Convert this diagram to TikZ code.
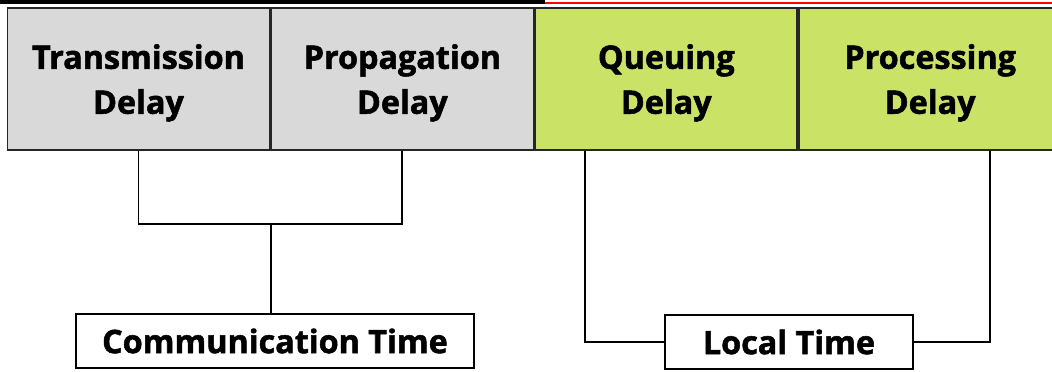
\documentclass[tikz,border=0pt]{standalone}
\usepackage{fontspec}
\setmainfont{Open Sans}[BoldFeatures={FakeBold=1.6}]
\usepackage{xcolor}
\usepackage{tikz}
\usetikzlibrary{positioning}

\definecolor{delaygray}{RGB}{217,217,217}
\definecolor{delaygreen}{RGB}{202,226,102}

\tikzset{
	delaybox/.style={draw=black!85, line width=1.3pt, inner sep=0pt, minimum width=6.55cm, minimum height=3.55cm, align=center, font=\fontsize{23}{32}\selectfont\bfseries},
	timebox/.style={draw=black, line width=1.3pt, inner sep=0pt, minimum height=1.33cm, font=\fontsize{23}{32}\selectfont\bfseries},
	wire/.style={draw=black, line width=1.3pt}
}
\newcommand{\lowstrut}{\rule{0pt}{23pt}}

\begin{document}
\begin{tikzpicture}[x=0.025cm,y=-0.025cm]
		\useasboundingbox (0,0) rectangle (1052,372);
		\draw[line width=3pt] (0,2) -- (545,2);
		\draw[red, line width=1.5pt] (545,3) -- (1052,3);
		%
		\node[delaybox, fill=delaygray] (trans) at (138.5,79) {\lowstrut Transmission\\Delay};
		\node[delaybox, fill=delaygray, right=0pt of trans] (prop) {\lowstrut Propagation\\Delay};
		\node[delaybox, fill=delaygreen, right=0pt of prop] (queue) {\lowstrut Queuing\\Delay};
		\node[delaybox, fill=delaygreen, right=0pt of queue] (proc) {\lowstrut Processing\\Delay};
		%
		\node[timebox, minimum width=9.95cm] (comm) at (275,341) {Communication Time};
		\node[timebox, minimum width=6.2cm] (local) at (789,342) {Local Time};
		%
		\coordinate (cj) at (271,224);
		\path[wire]
		(trans.south) |- (cj) -| (prop.south)
		(cj) -- (cj |- comm.north)
		(queue.south west) ++(51,0) |- (local.west)
		(proc.south east) ++(-72,0) |- (local.east);
		\end{tikzpicture}
\end{document}
